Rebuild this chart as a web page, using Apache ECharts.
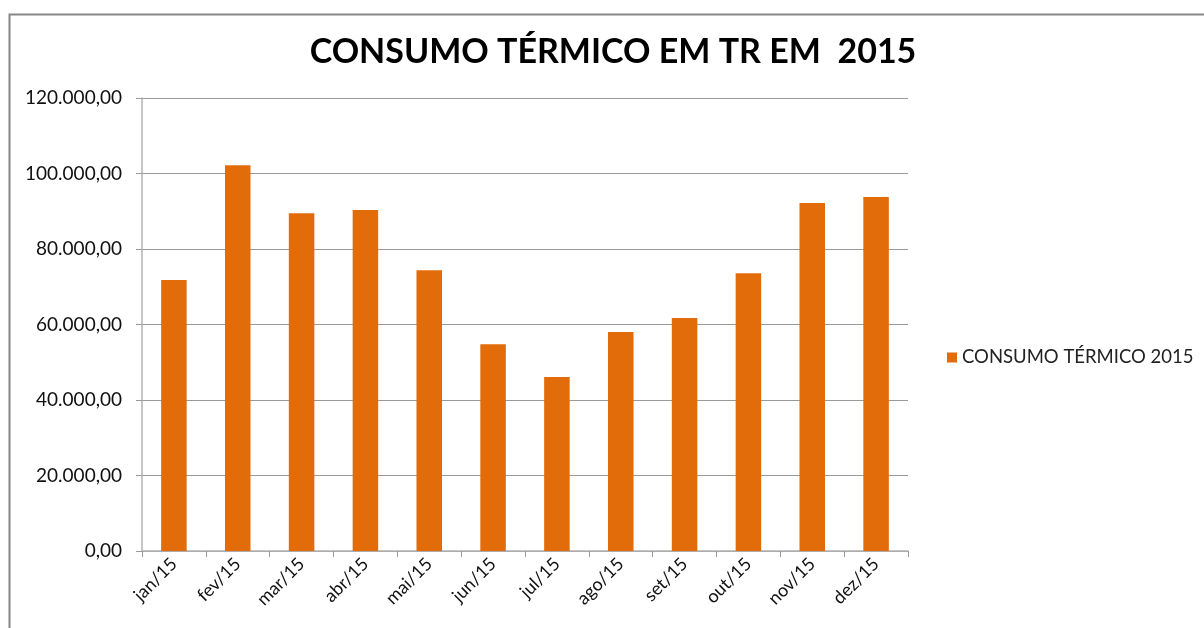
<!DOCTYPE html>
<html><head><meta charset="utf-8">
<script src="https://cdn.jsdelivr.net/npm/echarts@6/dist/echarts.min.js"></script>
<style>html,body{margin:0;padding:0;background:#fff}#c{width:1204px;height:628px}</style>
</head><body><div id="c"></div>
<script>
const categories = ['jan/15','fev/15','mar/15','abr/15','mai/15','jun/15','jul/15','ago/15','set/15','out/15','nov/15','dez/15'];
const consumo2015 = [71800, 102200, 89500, 90300, 74400, 54800, 46100, 58000, 61700, 73600, 92200, 93800];
const seriesName = 'CONSUMO TÉRMICO 2015';
const titleText = 'CONSUMO TÉRMICO EM TR EM  2015';

function fmt(v){
  const s = Math.round(v).toString().replace(/\B(?=(\d{3})+(?!\d))/g,'.');
  return s + ',00';
}
const chart = echarts.init(document.getElementById('c'));
chart.setOption({
  animation:false,
  backgroundColor:'#fff',
  graphic:[{type:'rect',shape:{x:9.5,y:14.5,width:1220,height:640},style:{fill:'none',stroke:'#878787',lineWidth:2},silent:true}],
  title:{text:titleText,left:608,top:30,textAlign:'center',textStyle:{fontFamily:'Lato',fontWeight:'bold',fontSize:34,color:'#000'}},
  legend:{data:[seriesName],left:942,top:343,itemWidth:10,itemHeight:10,itemGap:8,icon:'rect',textStyle:{fontFamily:'Lato',fontSize:18.5,color:'#222'}},
  grid:{left:142,top:98,right:1204-908,bottom:628-551,containLabel:false},
  xAxis:{type:'category',data:categories,
    axisLine:{lineStyle:{color:'#b3b3b3',width:1.5}},
    axisTick:{show:true,alignWithLabel:false,length:6,lineStyle:{color:'#999'}},
    axisLabel:{rotate:45,fontFamily:'Lato',fontSize:18,color:'#111',margin:10,interval:0}},
  yAxis:{type:'value',min:0,max:120000,interval:20000,
    axisLine:{show:true,lineStyle:{color:'#b3b3b3',width:1.5}},
    axisTick:{show:true,length:6,lineStyle:{color:'#999'}},
    splitLine:{lineStyle:{color:'#9a9a9a'}},
    axisLabel:{formatter:fmt,fontFamily:'Lato',fontSize:19,color:'#111',margin:20}},
  series:[{name:seriesName,type:'bar',data:consumo2015,barWidth:'40%',itemStyle:{color:'#E36C0A'}}]
});
</script></body></html>
